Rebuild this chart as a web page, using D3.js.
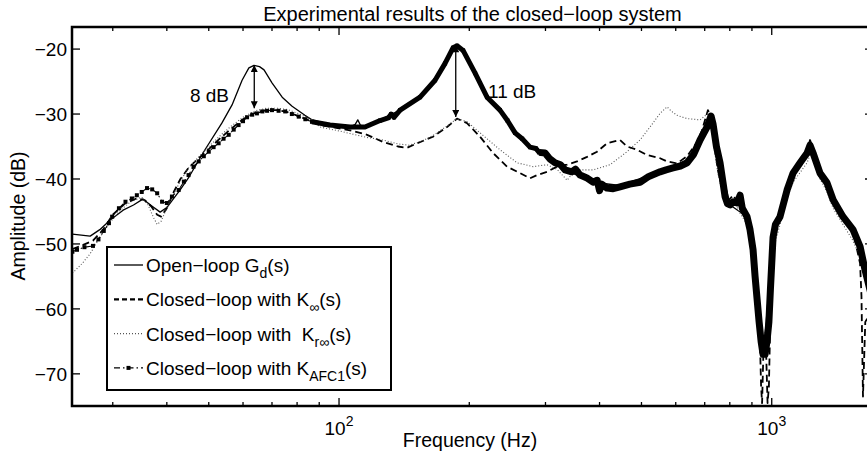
<!DOCTYPE html>
<html><head><meta charset="utf-8">
<script src="https://cdn.jsdelivr.net/npm/d3@7"></script>
<style>
body{margin:0;background:#fff}
svg{display:block}
text{font-family:"Liberation Sans",Arial,Helvetica,sans-serif;fill:#000}
</style>
</head><body>
<svg id="c" width="867" height="458"></svg>
<script>
// ---------- data (frequency Hz, amplitude dB) ----------
const openLoop = [[24.2,-48.5],[26.6,-48.8],[28.0,-47.8],[29.6,-46.3],[31.7,-44.8],[33.5,-44.0],[35.2,-43.1],[37.0,-44.2],[38.6,-45.1],[40.0,-44.4],[41.5,-43.0],[42.9,-41.7],[45.0,-39.7],[49.0,-35.5],[53.6,-31.4],[56.6,-28.6],[59.7,-24.8],[61.9,-22.9],[63.6,-22.5],[65.5,-22.7],[67.1,-23.2],[70.0,-25.2],[73.9,-27.4],[77.9,-28.8],[83.4,-30.2],[86.6,-30.9],[95.3,-31.6],[106,-32.0],[109,-31.6],[110.5,-30.9],[112,-31.7],[114.8,-32.0],[124.4,-30.9],[138.4,-29.4],[153.9,-27.4],[166.7,-24.8],[175.8,-22.2],[183.4,-19.8],[187.4,-19.5],[193.5,-20.2],[206.3,-23.7],[219.8,-27.4],[235.5,-29.4],[255.2,-32.9],[276.3,-35.1],[299.3,-36.0],[333,-38.6],[386.4,-40.5],[446.1,-41.0],[551.9,-38.9],[637.3,-37.3],[682.9,-34.0],[723.9,-30.3],[759.5,-37.5],[801,-44.0],[876.9,-45.8],[915.2,-55],[960,-66],[1007,-49],[1085,-41.7],[1226,-34.8],[1386,-43.2],[1600,-50.4],[1714,-60]];

const kInf = [[24.2,-50.8],[25.5,-50.2],[27,-49.5],[28.5,-47.8],[30,-45.5],[32,-43.8],[34,-43.0],[35.5,-43.2],[36.8,-44.2],[38.0,-45.5],[38.8,-45.8],[40,-44.5],[41.5,-42.0],[43,-40.0],[45,-38.2],[47.4,-36.8],[50,-35.4],[53,-33.8],[56,-32.4],[60,-30.8],[64,-29.8],[68,-29.4],[72,-29.4],[76,-29.7],[81.3,-30.4],[90.4,-31.7],[100,-32.2],[106,-32.5],[116.1,-33.2],[126.4,-34.3],[136.9,-35.0],[143.6,-35.2],[151.5,-34.5],[164.9,-33.5],[177.7,-32.0],[187.4,-30.7],[197.6,-31.4],[211.8,-33.5],[227,-36.0],[244.5,-38.1],[262,-39.1],[276.3,-39.9],[286.8,-39.4],[302.5,-38.9],[319,-38.1],[336.5,-37.8],[354.8,-37.3],[374.3,-36.6],[394.7,-35.8],[416.3,-34.5],[446.1,-34.0],[463,-35.0],[488.3,-35.5],[514.9,-36.3],[551.9,-36.8],[572.8,-37.3],[604.1,-37.6],[637,-36.5],[670,-34.5],[690,-32.5],[712,-29.4],[725,-30.5],[735,-34],[750,-38.5],[771.7,-42],[790,-43.5],[815,-42.5],[840,-44],[876.9,-46],[905,-51],[925,-57],[935,-60],[945,-72],[950,-74.5],[958,-65],[968,-64],[978,-74.5],[985,-72],[995,-58],[1007,-50],[1045,-45.5],[1085,-41],[1120,-39],[1163,-37],[1207,-35.5],[1226,-34],[1250,-35.5],[1293,-38.5],[1342,-40.5],[1386,-43],[1461,-45.5],[1541,-48],[1600,-53],[1612,-58],[1625,-73.5],[1645,-62],[1714,-60]];

const krInf = [[24.2,-54.5],[25.5,-53],[26.6,-51.5],[28,-49],[29.5,-46.8],[31,-45],[33,-43.5],[35,-42.8],[36.2,-44.0],[37.3,-46.0],[38.0,-47.0],[38.8,-46.5],[40,-44.5],[41.5,-42.3],[43,-40.3],[45,-38.2],[47.4,-36.6],[50,-35.0],[53,-33.4],[56,-32.0],[60,-30.5],[64,-29.5],[68,-29.1],[72,-29.1],[76,-29.3],[81,-30.0],[86,-30.8],[90.4,-32.0],[100,-32.6],[106,-33.0],[116,-33.6],[126.4,-34.0],[137,-34.6],[145,-34.8],[155,-34.2],[165,-33.3],[178,-31.8],[187.4,-30.7],[198,-31.2],[208.4,-32.5],[235.5,-35.5],[257.8,-37.5],[280.8,-38.1],[302.5,-37.8],[319,-38.5],[336.5,-40.2],[342,-39.6],[360.6,-38.6],[386.4,-38.6],[423,-37.8],[463,-35.8],[496,-34.0],[523.3,-32.0],[551.9,-29.9],[572.8,-28.9],[585,-29.5],[604,-30.2],[637,-30.7],[683,-30.9],[712.6,-29.9],[725,-31],[735,-35],[750,-39],[771.7,-42.5],[790,-44],[815,-43],[840,-45],[876.9,-47],[905,-52],[925,-58],[940,-63],[950,-66],[960,-64],[975,-63],[990,-58],[1000,-54],[1007,-51],[1045,-47],[1085,-43],[1120,-40.5],[1163,-39],[1207,-37.5],[1230,-36],[1260,-38],[1293,-40],[1342,-42],[1386,-44.5],[1461,-47],[1541,-49.5],[1600,-52],[1650,-55],[1714,-58]];

const kAfc1 = [[24.2,-51.2],[24.8,-50.9],[25.8,-50.5],[27.0,-50.3],[27.8,-49.3],[28.6,-48.0],[29.4,-46.8],[29.9,-45.8],[31.0,-44.5],[32.1,-43.5],[33.2,-43.0],[34.1,-42.5],[35.0,-42.0],[36.0,-41.4],[37.0,-41.6],[38.0,-42.2],[39.0,-43.5],[40.0,-43.7],[41.1,-42.7],[42.6,-41.7],[43.8,-40.4],[44.9,-39.4],[46.1,-38.1],[47.4,-37.3],[48.7,-36.5],[50.0,-35.8],[51.3,-35.1],[52.7,-34.5],[54.1,-33.8],[55.6,-33.2],[57.1,-32.4],[58.6,-31.7],[60.0,-31.1],[61.3,-30.5],[63.0,-30.1],[64.6,-29.9],[66.5,-29.6],[68.2,-29.5],[70.0,-29.4],[72.5,-29.5],[75.1,-29.6],[77.8,-30.0],[80.7,-30.4],[83.6,-30.8],[86.6,-31.2],[95.3,-31.7],[106,-32.0],[114.8,-32.0],[124.4,-31.0],[130,-30.6],[132,-30.0],[134,-30.5],[138.4,-29.4],[153.9,-27.4],[166.7,-24.8],[175.8,-22.2],[183.4,-19.8],[187.4,-19.5],[193.5,-20.2],[206.3,-23.7],[219.8,-27.4],[235.5,-29.4],[245,-31.0],[255.2,-32.9],[265,-33.8],[276.3,-35.1],[285,-35.3],[290,-35.9],[299.3,-36.0],[307,-36.9],[315.6,-37.5],[325,-37.8],[333,-38.6],[345,-38.9],[352,-38.5],[360.6,-39.4],[373,-39.8],[386.4,-40.5],[395,-40.2],[400,-41.8],[405,-40.8],[416.3,-41.4],[430,-41.5],[446.1,-41.2],[470,-40.8],[496.2,-40.5],[520,-39.6],[551.9,-38.9],[570,-38.6],[591.4,-38.3],[615,-38.0],[637.3,-37.5],[660,-36.2],[682.9,-34.0],[708.8,-32.0],[723.9,-30.3],[731.6,-31.5],[745,-35],[759.5,-37.5],[771.7,-40.6],[780,-42.7],[790,-43.8],[801,-44.0],[815,-43.5],[831.6,-43.7],[845,-42.5],[855,-44.5],[876.9,-45.8],[890.9,-47.8],[905.4,-50.9],[915.2,-55],[925,-58.5],[935,-62],[945,-65],[955,-67],[965,-67],[975,-65],[985,-62],[993,-57],[1000,-53],[1007,-49],[1020,-47],[1045,-45.8],[1085,-41.7],[1120,-39.1],[1163,-37.5],[1207,-36],[1226,-34.8],[1246,-36],[1293,-39.1],[1342,-40.6],[1386,-43.2],[1461,-45.8],[1541,-47.8],[1600,-50.4],[1643,-54],[1714,-59]];

const xMajorTicks = [100, 1000];
const xMajorExponents = ["2", "3"];
const xMinorTicks = [30,40,50,60,70,80,90,200,300,400,500,600,700,800,900];
const yTicks = [-70,-60,-50,-40,-30,-20];

const titleText = "Experimental results of the closed\u2212loop system";
const xLabelText = "Frequency (Hz)";
const yLabelText = "Amplitude (dB)";

const legendItems = [
  {key:"ol",   parts:[["Open\u2212loop G",0],["d",1],["(s)",0]]},
  {key:"kinf", parts:[["Closed\u2212loop with K",0],["\u221e",1],["(s)",0]]},
  {key:"krinf",parts:[["Closed\u2212loop with  K",0],["r\u221e",1],["(s)",0]]},
  {key:"afc1", parts:[["Closed\u2212loop with K",0],["AFC1",1],["(s)",0]]}
];

const annotations = [
  {label:"8 dB",  f:63.7,  top:-22.46, bottom:-29.1, labelF:55.7, labelDb:-28.15, anchor:"end"},
  {label:"11 dB", f:186.1, top:-19.4,  bottom:-30.46, labelF:221, labelDb:-27.55, anchor:"start"}
];

// ---------- drawing ----------
const svg = d3.select("#c");
const M = {l:72, r:873, t:27, b:406};
const x = d3.scaleLog().domain([24.15, 1714]).range([M.l, M.r]);
const y = d3.scaleLinear().domain([-74.95, -16.6]).range([M.b, M.t]);

const defs = svg.append("defs");
defs.append("clipPath").attr("id","clip").append("rect")
  .attr("x",M.l).attr("y",M.t).attr("width",M.r-M.l).attr("height",M.b-M.t);
defs.append("marker").attr("id","ah").attr("viewBox","0 0 10 10")
  .attr("refX",10).attr("refY",5).attr("markerWidth",8).attr("markerHeight",7)
  .attr("markerUnits","userSpaceOnUse").attr("orient","auto-start-reverse")
  .append("path").attr("d","M0,0 L10,5 L0,10 z").attr("fill","#000");

const line = d3.line().x(d=>x(d[0])).y(d=>y(d[1]));
const plot = svg.append("g").attr("clip-path","url(#clip)");

const styles = {
  ol:   {stroke:"#000", width:1.3, dash:null},
  kinf: {stroke:"#000", width:1.8, dash:"7,4"},
  krinf:{stroke:"#555", width:1.1, dash:"1,2"},
  afc1: {stroke:"#000", width:1.1, dash:"6,3,1.5,3"}
};

function drawLine(data, s){
  plot.append("path").datum(data).attr("d",line)
    .attr("fill","none").attr("stroke",s.stroke).attr("stroke-width",s.width)
    .attr("stroke-dasharray",s.dash).attr("stroke-linejoin","round");
}
drawLine(openLoop, styles.ol);
drawLine(kInf, styles.kinf);
drawLine(krInf, styles.krinf);
drawLine(kAfc1, styles.afc1);
// dense markers of the AFC1 curve form a thick band at higher frequency
plot.append("path").datum(kAfc1.filter(d=>d[0]>=86 && d[0]<=300)).attr("d",line)
  .attr("fill","none").attr("stroke","#000").attr("stroke-width",5).attr("stroke-linejoin","round");
plot.append("path").datum(kAfc1.filter(d=>d[0]>=290)).attr("d",line)
  .attr("fill","none").attr("stroke","#000").attr("stroke-width",7).attr("stroke-linejoin","round");
plot.selectAll("rect.m").data(kAfc1).enter().append("rect").attr("class","m")
  .attr("x",d=>x(d[0])-2).attr("y",d=>y(d[1])-2).attr("width",4).attr("height",4).attr("fill","#000");

// annotations
annotations.forEach(a=>{
  svg.append("line").attr("x1",x(a.f)).attr("x2",x(a.f)).attr("y1",y(a.top)).attr("y2",y(a.bottom))
    .attr("stroke","#000").attr("stroke-width",1.3)
    .attr("marker-start","url(#ah)").attr("marker-end","url(#ah)");
  svg.append("text").attr("x",x(a.labelF)).attr("y",y(a.labelDb)).attr("text-anchor",a.anchor)
    .attr("font-size",19).text(a.label);
});

// axes frame and ticks
svg.append("rect").attr("x",M.l).attr("y",M.t).attr("width",M.r-M.l).attr("height",M.b-M.t)
  .attr("fill","none").attr("stroke","#000").attr("stroke-width",2.5);

function xTicks(vals, len){
  vals.forEach(v=>{
    const xx = x(v);
    svg.append("line").attr("x1",xx).attr("x2",xx).attr("y1",M.b).attr("y2",M.b-len).attr("stroke","#000").attr("stroke-width",1.3);
    svg.append("line").attr("x1",xx).attr("x2",xx).attr("y1",M.t).attr("y2",M.t+len).attr("stroke","#000").attr("stroke-width",1.3);
  });
}
xTicks(xMajorTicks, 8);
xTicks(xMinorTicks, 4);
yTicks.forEach(v=>{
  const yy = y(v);
  svg.append("line").attr("x1",M.l).attr("x2",M.l+8).attr("y1",yy).attr("y2",yy).attr("stroke","#000").attr("stroke-width",1.3);
  svg.append("line").attr("x1",M.r).attr("x2",M.r-8).attr("y1",yy).attr("y2",yy).attr("stroke","#000").attr("stroke-width",1.3);
  svg.append("text").attr("x",M.l-5).attr("y",yy+7).attr("text-anchor","end").attr("font-size",19)
    .text(d3.format("")(v).replace("-","\u2212"));
});
xMajorTicks.forEach((v,i)=>{
  const t = svg.append("text").attr("x",x(v)).attr("y",435).attr("text-anchor","middle").attr("font-size",19);
  t.append("tspan").text("10");
  t.append("tspan").attr("dy",-9).attr("font-size",14).text(xMajorExponents[i]);
});

// labels
svg.append("text").attr("x",(M.l+M.r)/2).attr("y",21).attr("text-anchor","middle").attr("font-size",20).text(titleText);
svg.append("text").attr("x",470).attr("y",447).attr("text-anchor","middle").attr("font-size",19.5).text(xLabelText);
svg.append("text").attr("transform","translate(25,216) rotate(-90)").attr("text-anchor","middle").attr("font-size",19.5).text(yLabelText);

// legend
const lg = svg.append("g");
lg.append("rect").attr("x",107).attr("y",247).attr("width",284).attr("height",143)
  .attr("fill","#fff").attr("stroke","#000").attr("stroke-width",2);
legendItems.forEach((it,i)=>{
  const ly = 265 + i*34.3;
  const s = styles[it.key];
  lg.append("line").attr("x1",114).attr("x2",143).attr("y1",ly).attr("y2",ly)
    .attr("stroke",s.stroke).attr("stroke-width", it.key==="kinf"?2.2:s.width).attr("stroke-dasharray",it.key==="kinf"?"5,3":s.dash);
  if(it.key==="afc1") lg.append("rect").attr("x",126.5).attr("y",ly-2).attr("width",4).attr("height",4).attr("fill","#000");
  const t = lg.append("text").attr("x",146).attr("y",ly+7).attr("font-size",19).style("white-space","pre");
  let cur = 0;
  it.parts.forEach(p=>{
    const sh = p[1] ? 6 : 0;
    t.append("tspan").attr("dy", sh-cur).attr("font-size", p[1]?14:19).text(p[0]);
    cur = sh;
  });
});
</script>
</body></html>
